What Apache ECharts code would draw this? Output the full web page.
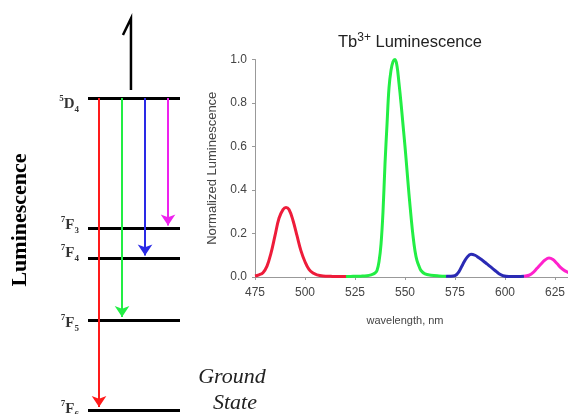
<!DOCTYPE html>
<html>
<head>
<meta charset="utf-8">
<script src="https://cdn.jsdelivr.net/npm/echarts@6/dist/echarts.min.js"></script>
<style>html,body{margin:0;padding:0;background:#fff;}#c{width:568px;height:414px;}</style>
</head>
<body>
<div id="c"></div>
<script>
// ---- Spectrum data (wavelength nm, normalized luminescence) ----
const redSeg = [[475,0.005],[477,0.01],[479,0.02],[481,0.05],[483,0.11],[485,0.19],[487,0.27],[489,0.31],[490.5,0.32],[492,0.31],[494,0.26],[496,0.19],[498,0.12],[500,0.07],[502,0.035],[504,0.018],[506,0.01],[509,0.005],[513,0.003],[517,0.002],[520.5,0.002]];
const greenSeg = [[520.5,0.002],[524,0.003],[528,0.004],[531,0.006],[533,0.01],[535,0.018],[536,0.03],[537,0.07],[538,0.15],[539,0.3],[540,0.52],[541,0.7],[542,0.87],[543,0.95],[544,0.99],[545,1.0],[546,0.97],[547,0.89],[548,0.8],[549,0.7],[550,0.6],[551,0.49],[552,0.38],[553,0.28],[554,0.19],[555,0.12],[556,0.075],[557,0.05],[558,0.03],[560,0.014],[563,0.008],[567,0.005],[570.5,0.004]];
const blueSeg = [[570.5,0.004],[573,0.003],[575,0.006],[577,0.025],[579,0.06],[581,0.09],[583,0.105],[585,0.1],[587,0.088],[589,0.075],[591,0.06],[593,0.045],[595,0.03],[597,0.015],[599,0.006],[602,0.002],[606,0.002],[609.5,0.003]];
const magentaSeg = [[609.5,0.003],[612,0.008],[614,0.02],[616,0.04],[618,0.06],[620,0.078],[622,0.087],[624,0.08],[626,0.062],[628,0.042],[630,0.028],[632,0.02],[635,0.012]];
const xTicks = {min:475, max:650, interval:25};
const yTicks = {min:0, max:1.0, interval:0.2};

// ---- Energy level diagram data (schematic energy units) ----
const levelNames = ['5D4','7F3','7F4','7F5','7F6'];
const levelSup = ['5','7','7','7','7'];
const levelMain = ['D','F','F','F','F'];
const levelSub = ['4','3','4','5','6'];
const levelEnergy = [10.4, 6.05, 5.05, 3.0, 0];
// emission transitions: from 5D4 to level index, at horizontal fraction
const emissionTo = [4, 3, 2, 1];
const emissionPos = [0.12, 0.37, 0.62, 0.87];
const excitation = [[0.467,10.67],[0.467,13.05],[0.38,12.5]];

// ---- styles ----
const specColors = ['#ee1c3a','#22ee44','#2a2ab4','#ff22cc'];
const arrowColors = ['#ff1a1a','#22ee44','#2a2ae6','#ee22ee'];
const labelDy = [6,-3,-5,3,-1];
const arrowTipGap = [0.1,0.1,0.1,0.1];

const chart = echarts.init(document.getElementById('c'), null, {renderer:'canvas'});

const segs = [redSeg, greenSeg, blueSeg, magentaSeg];
const specSeries = segs.map((d,i)=>({
  type:'line', xAxisIndex:0, yAxisIndex:0, data:d, smooth:0.4, showSymbol:false,
  lineStyle:{color:specColors[i], width:3}, itemStyle:{color:specColors[i]}, z:3
}));

const levelLines = {
  type:'lines', coordinateSystem:'cartesian2d', xAxisIndex:1, yAxisIndex:1, clip:false,
  data: levelEnergy.map(e=>({coords:[[0,e],[1,e]]})),
  lineStyle:{color:'#000', width:3, opacity:1}, symbol:'none'
};
const levelLabels = {
  type:'scatter', xAxisIndex:1, yAxisIndex:1, symbolSize:0, clip:false,
  data: levelEnergy.map((e,i)=>({value:[0,e], label:{offset:[0,labelDy[i]]}})),
  label:{show:true, position:'left', distance:9,
    formatter:(p)=>{const i=p.dataIndex; return '{sup|'+levelSup[i]+'}{main|'+levelMain[i]+'}{sub|'+levelSub[i]+'}';},
    rich:{
      sup:{fontFamily:'Liberation Serif', fontWeight:'bold', fontSize:9, color:'#000', verticalAlign:'top', lineHeight:20},
      main:{fontFamily:'Liberation Serif', fontWeight:'bold', fontSize:15, color:'#000', lineHeight:20},
      sub:{fontFamily:'Liberation Serif', fontWeight:'bold', fontSize:9, color:'#000', verticalAlign:'bottom', lineHeight:20}
    }
  }
};
const arrows = {
  type:'lines', coordinateSystem:'cartesian2d', xAxisIndex:1, yAxisIndex:1, clip:false,
  symbol:['none','arrow'], symbolSize:[9,11],
  data: emissionTo.map((t,i)=>({coords:[[emissionPos[i], levelEnergy[0]],[emissionPos[i], levelEnergy[t]+arrowTipGap[i]]], lineStyle:{color:arrowColors[i]}})),
  lineStyle:{width:2, opacity:1}, z:4
};
const excite = {
  type:'lines', coordinateSystem:'cartesian2d', xAxisIndex:1, yAxisIndex:1, clip:false, polyline:true,
  data:[{coords:excitation}], lineStyle:{color:'#000', width:2.5, opacity:1}, symbol:'none'
};

chart.setOption({
  animation:false,
  backgroundColor:'#fff',
  title:{
    text:'{a|Tb}{b|3+}{a| Luminescence}', left:333, top:27,
    textStyle:{fontWeight:'normal', rich:{
      a:{fontFamily:'Liberation Sans', fontWeight:'normal', fontSize:16.5, color:'#222', lineHeight:20},
      b:{fontFamily:'Liberation Sans', fontWeight:'normal', fontSize:12, color:'#222', verticalAlign:'top', lineHeight:20}
    }}
  },
  grid:[
    {left:255, top:59.5, width:350, height:217.5, containLabel:false, outerBoundsMode:'none'},
    {left:88, top:5, width:92, height:405, containLabel:false, outerBoundsMode:'none'}
  ],
  xAxis:[
    {type:'value', gridIndex:0, min:xTicks.min, max:xTicks.max, interval:xTicks.interval,
     axisLine:{lineStyle:{color:'#999', width:1}}, axisTick:{show:true, length:3, lineStyle:{color:'#999'}},
     splitLine:{show:false},
     axisLabel:{color:'#444', fontFamily:'Liberation Sans', fontSize:12, margin:10},
     name:'wavelength, nm', nameLocation:'middle', nameGap:38,
     nameTextStyle:{color:'#444', fontFamily:'Liberation Sans', fontSize:11, padding:[0,50,0,0]}},
    {type:'value', gridIndex:1, min:0, max:1, show:false}
  ],
  yAxis:[
    {type:'value', gridIndex:0, min:yTicks.min, max:yTicks.max, interval:yTicks.interval,
     axisLine:{show:true, lineStyle:{color:'#999', width:1}}, axisTick:{show:true, length:3, lineStyle:{color:'#999'}},
     splitLine:{show:false},
     axisLabel:{color:'#444', fontFamily:'Liberation Sans', fontSize:12, margin:8, formatter:(v)=>v.toFixed(1)},
     name:'Normalized Luminescence', nameLocation:'middle', nameGap:35, nameRotate:90,
     nameTextStyle:{color:'#444', fontFamily:'Liberation Sans', fontSize:13}},
    {type:'value', gridIndex:1, min:0, max:13.5, show:false}
  ],
  graphic:[
    {type:'text', x:20, y:220, rotation:Math.PI/2,
     style:{text:'Luminescence', font:'bold 22px "Liberation Serif"', fill:'#000', align:'center', verticalAlign:'middle'}},
    {type:'text', x:232, y:377,
     style:{text:'Ground', font:'italic 22px "Liberation Serif"', fill:'#222', align:'center', verticalAlign:'middle'}},
    {type:'text', x:235, y:403,
     style:{text:'State', font:'italic 22px "Liberation Serif"', fill:'#222', align:'center', verticalAlign:'middle'}}
  ],
  series:[...specSeries, levelLines, arrows, excite, levelLabels]
});
</script>
</body>
</html>
